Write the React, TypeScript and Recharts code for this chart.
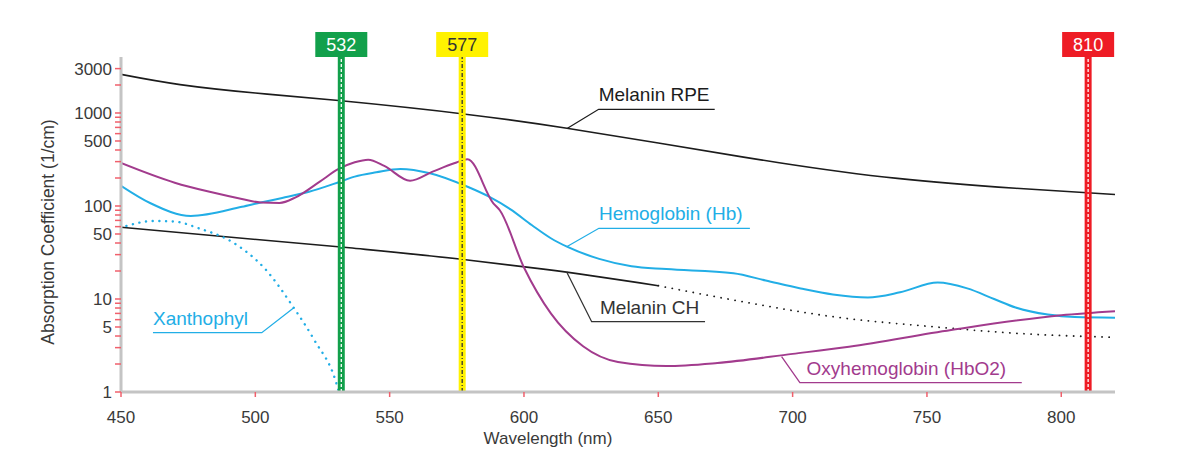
import React from 'react';
import { LineChart, Line, XAxis, YAxis, ReferenceLine, ReferenceDot } from 'recharts';

// ---------- data ----------
const wavelengthTicks = [450, 500, 550, 600, 650, 700, 750, 800];
const absorptionTicks = [
  1, 2, 3, 4, 5, 6, 7, 8, 9,
  10, 20, 30, 40, 50, 60, 70, 80, 90,
  100, 200, 300, 400, 500, 600, 700, 800, 900,
  1000, 2000, 3000,
];
const labeledAbsorptionTicks = [1, 5, 10, 50, 100, 500, 1000, 3000];

const melaninRPE = [
  { x: 450, v: 2600 }, { x: 472, v: 2020 }, { x: 500, v: 1640 }, { x: 531, v: 1360 },
  { x: 579, v: 965 }, { x: 616, v: 685 }, { x: 650, v: 475 },
  { x: 695, v: 292 }, { x: 739, v: 198 }, { x: 783, v: 155 }, { x: 820, v: 133 },
];

const hemoglobin = [
  { x: 450, v: 165 }, { x: 461, v: 107 }, { x: 476, v: 78 }, { x: 495, v: 98 }, { x: 502, v: 109 },
  { x: 510, v: 122 }, { x: 520, v: 142 }, { x: 531, v: 180 }, { x: 537, v: 207 }, { x: 545, v: 230 },
  { x: 554, v: 250 }, { x: 565, v: 225 }, { x: 579, v: 161 }, { x: 587, v: 126 }, { x: 595, v: 92 },
  { x: 603, v: 62 }, { x: 610, v: 45 }, { x: 616, v: 36.5 }, { x: 628, v: 27 }, { x: 640, v: 22.5 },
  { x: 653, v: 21 }, { x: 678, v: 18.9 }, { x: 690, v: 15.8 }, { x: 703, v: 13 }, { x: 715, v: 11.2 },
  { x: 728, v: 10.4 }, { x: 740, v: 11.8 }, { x: 754, v: 15 }, { x: 765, v: 13 }, { x: 775, v: 10 },
  { x: 783, v: 8.1 }, { x: 795, v: 6.8 }, { x: 805, v: 6.4 }, { x: 820, v: 6.3 },
];

const oxyhemoglobin = [
  { x: 450, v: 290 }, { x: 470, v: 178 }, { x: 483, v: 142 }, { x: 495, v: 119 }, { x: 502, v: 109 },
  { x: 509, v: 108 }, { x: 515, v: 124 }, { x: 524, v: 183 }, { x: 531, v: 250 }, { x: 537, v: 295 },
  { x: 542, v: 315 }, { x: 548, v: 270 }, { x: 557.6, v: 187 }, { x: 566, v: 234 }, { x: 574, v: 288 },
  { x: 579, v: 318 }, { x: 588.6, v: 107 }, { x: 591, v: 90 }, { x: 600, v: 21.8 }, { x: 610, v: 7.0 },
  { x: 622, v: 3.1 }, { x: 635, v: 2.1 }, { x: 653, v: 1.9 }, { x: 672, v: 2.05 }, { x: 700, v: 2.57 },
  { x: 721, v: 3.07 }, { x: 759, v: 4.64 }, { x: 800, v: 6.7 }, { x: 820, v: 7.4 },
];

const melaninCHMeasured = [
  { x: 450, v: 59 }, { x: 535, v: 35.5 }, { x: 579, v: 26.3 }, { x: 608, v: 20.8 }, { x: 650, v: 13.9 },
];
const melaninCHExtrapolated = [
  { x: 650, v: 13.9 }, { x: 678, v: 9.75 }, { x: 715, v: 6.45 }, { x: 752, v: 5.04 },
  { x: 783, v: 4.28 }, { x: 820, v: 3.87 },
];

const xanthophyl = [
  { x: 452, v: 61 }, { x: 462, v: 69 }, { x: 470, v: 68 }, { x: 479, v: 57.5 }, { x: 492, v: 40 },
  { x: 504, v: 20.5 }, { x: 514, v: 8.3 }, { x: 522, v: 3.6 }, { x: 530, v: 1.29 }, { x: 531, v: 1.03 },
];

// laser wavelengths
const laserWavelengths = [532, 577, 810];
const laserLabels = ['532', '577', '810'];

// annotation leader lines: curve point -> elbow -> end of underline
const melaninRpeNote = [{ x: 616.2, v: 685 }, { x: 627.8, v: 1096 }, { x: 671, v: 1096 }];
const hemoglobinNote = [{ x: 615.9, v: 36.5 }, { x: 627.9, v: 57.6 }, { x: 684.1, v: 57.6 }];
const melaninChNote = [{ x: 615.9, v: 19.5 }, { x: 625.2, v: 5.7 }, { x: 667.4, v: 5.7 }];
const xanthophylNote = [{ x: 514.1, v: 7.94 }, { x: 502.4, v: 4.34 }, { x: 461.9, v: 4.34 }];
const oxyNote = [{ x: 695.9, v: 2.4 }, { x: 702.7, v: 1.259 }, { x: 785.3, v: 1.259 }];

const noteTexts = ['Melanin RPE', 'Hemoglobin (Hb)', 'Melanin CH', 'Xanthophyl', 'Oxyhemoglobin (HbO2)'];
const noteTextAnchors = [
  { x: 627.8, v: 1096 }, { x: 627.9, v: 57.6 }, { x: 628.3, v: 5.7 }, { x: 461.9, v: 4.34 }, { x: 705.2, v: 1.259 },
];

// ---------- styles ----------
const FONT = '"Liberation Sans", Arial, Helvetica, sans-serif';
const TEXT = '#3a3a3a';
const BLACK = '#1c1c1c';
const BLUE = '#22aee6';
const PURPLE = '#a23b8d';
const TICK_RED = '#f0606c';
const AXIS_GREY = '#c4c4c4';
const laserStyles = [
  { fill: '#12a04b', text: '#ffffff', dash: '#ffffff', pattern: '3 2' },
  { fill: '#fff200', text: '#333333', dash: '#333333', pattern: '4 2 1 2' },
  { fill: '#ee1c25', text: '#ffffff', dash: '#ffffff', pattern: '3 2' },
];
const noteColors = [BLACK, BLUE, '#333333', BLUE, PURPLE];
const notes = [melaninRpeNote, hemoglobinNote, melaninChNote, xanthophylNote, oxyNote];

const YTick = (props: any) => {
  const { x, y, payload } = props;
  if (!labeledAbsorptionTicks.includes(payload.value)) return null;
  return (
    <text x={x - 1} y={y} dy={6} textAnchor="end" fontSize={17} fontFamily={FONT} fill={TEXT}>
      {payload.value}
    </text>
  );
};

const XTick = (props: any) => {
  const { x, y, payload } = props;
  return (
    <text x={x} y={y} dy={24} textAnchor="middle" fontSize={17} fontFamily={FONT} fill={TEXT}>
      {payload.value}
    </text>
  );
};

const laserLabel = (i: number) => (props: any) => {
  const vb = props.viewBox || {};
  const s = laserStyles[i];
  return (
    <g>
      <rect x={vb.x - 26} y={vb.y - 25} width={52} height={25} fill={s.fill} />
      <text x={vb.x} y={vb.y - 6} textAnchor="middle" fontSize={18} fontFamily={FONT} fill={s.text}>
        {laserLabels[i]}
      </text>
    </g>
  );
};

const noteLabel = (i: number) => (props: any) => {
  const vb = props.viewBox || {};
  const cx = vb.x + (vb.width || 0) / 2;
  const cy = vb.y + (vb.height || 0) / 2;
  return (
    <text x={cx} y={cy - 8} textAnchor="start" fontSize={19} fontFamily={FONT} fill={noteColors[i]}>
      {noteTexts[i]}
    </text>
  );
};

export default function App() {
  return (
    <div style={{ width: 1200, height: 459, background: '#fff' }}>
      <style>{'body{margin:0;background:#fff}'}</style>
      <LineChart width={1200} height={459} margin={{ top: 57, right: 85, bottom: 7, left: 61 }}>
        <XAxis
          type="number"
          dataKey="x"
          domain={[450, 820]}
          ticks={wavelengthTicks}
          allowDataOverflow
          height={60}
          axisLine={{ stroke: AXIS_GREY, strokeWidth: 3 }}
          tickLine={{ stroke: TICK_RED, strokeWidth: 1.5 }}
          tickSize={5}
          tickMargin={2}
          tick={XTick}
          label={{
            content: () => (
              <text x={548} y={444} textAnchor="middle" fontSize={17} fontFamily={FONT} fill={TEXT}>
                Wavelength (nm)
              </text>
            ),
          }}
        />
        <YAxis
          type="number"
          scale="log"
          domain={[1, 4000]}
          ticks={absorptionTicks}
          allowDataOverflow
          width={60}
          axisLine={{ stroke: AXIS_GREY, strokeWidth: 3 }}
          tickLine={{ stroke: TICK_RED, strokeWidth: 1.5 }}
          tickSize={6}
          tickMargin={2}
          tick={YTick}
          interval={0}
          label={{
            content: () => (
              <text
                x={54}
                y={232}
                transform="rotate(-90 54 232)"
                textAnchor="middle"
                fontSize={17.5}
                fontFamily={FONT}
                fill={TEXT}
              >
                Absorption Coefficient (1/cm)
              </text>
            ),
          }}
        />

        <Line data={melaninRPE} dataKey="v" type="natural" stroke={BLACK} strokeWidth={1.6} dot={false} isAnimationActive={false} />
        <Line data={melaninCHMeasured} dataKey="v" type="monotone" stroke={BLACK} strokeWidth={1.6} dot={false} isAnimationActive={false} />
        <Line data={melaninCHExtrapolated} dataKey="v" type="monotone" stroke={BLACK} strokeWidth={1.8} strokeDasharray="0.1 7" strokeLinecap="round" dot={false} isAnimationActive={false} />
        <Line data={xanthophyl} dataKey="v" type="monotone" stroke={BLUE} strokeWidth={2.4} strokeDasharray="0.1 6.6" strokeLinecap="round" dot={false} isAnimationActive={false} />
        <Line data={hemoglobin} dataKey="v" type="monotone" stroke={BLUE} strokeWidth={2} dot={false} isAnimationActive={false} />
        <Line data={oxyhemoglobin} dataKey="v" type="monotone" stroke={PURPLE} strokeWidth={2} dot={false} isAnimationActive={false} />

        {notes.map((n, i) => (
          <Line key={'note' + i} data={n} dataKey="v" type="linear" stroke={noteColors[i]} strokeWidth={1.3} dot={false} isAnimationActive={false} />
        ))}

        {noteTextAnchors.map((p, i) => (
          <ReferenceDot key={'nt' + i} x={p.x} y={p.v} r={0} fill="none" stroke="none" label={{ content: noteLabel(i) }} />
        ))}

        {laserWavelengths.map((w, i) => (
          <ReferenceLine key={'lb' + i} x={w} stroke={laserStyles[i].fill} strokeWidth={7} label={{ content: laserLabel(i) }} />
        ))}
        {laserWavelengths.map((w, i) => (
          <ReferenceLine key={'ld' + i} x={w} stroke={laserStyles[i].dash} strokeWidth={1.3} strokeDasharray={laserStyles[i].pattern} />
        ))}
      </LineChart>
    </div>
  );
}
